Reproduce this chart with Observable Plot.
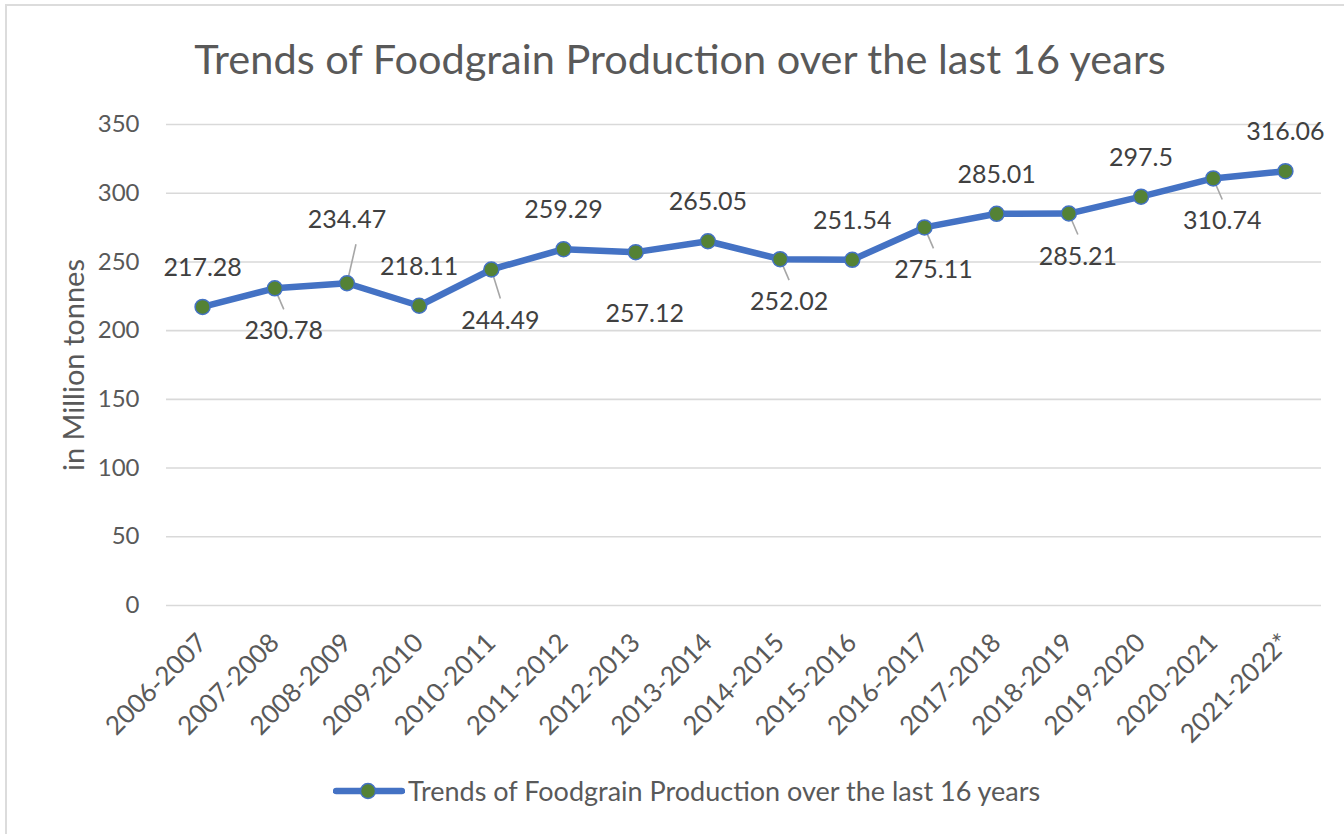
<!DOCTYPE html>
<html>
<head>
<meta charset="utf-8">
<script src="https://cdn.jsdelivr.net/npm/d3@7"></script>
<script src="https://cdn.jsdelivr.net/npm/@observablehq/plot@0.6"></script>
<style>
  html, body { margin: 0; padding: 0; background: #fff; }
  body { width: 1344px; height: 834px; position: relative; overflow: hidden; font-family: Lato, "Open Sans", sans-serif; color: #595959; }
  #frame { position: absolute; left: 5px; top: 4px; width: 1400px; height: 900px; border-left: 2px solid #dcdcdc; border-top: 2px solid #dcdcdc; }
  #title { position: absolute; left: 0; width: 1360px; top: 33px; text-align: center; font-size: 41.5px; line-height: 50px; white-space: nowrap; }
  #ylabel { position: absolute; left: 72px; top: 365px; transform: translate(-50%, -50%) rotate(-90deg); font-size: 29px; white-space: nowrap; }
  #chart { position: absolute; left: 0; top: 100px; }
  #legend { position: absolute; left: 333px; top: 774px; display: flex; align-items: center; font-size: 27px; white-space: nowrap; }
  #legend svg { margin-right: 3px; }
</style>
</head>
<body>
<div id="frame"></div>
<div id="title">Trends of Foodgrain Production over the last 16 years</div>
<div id="ylabel">in Million tonnes</div>
<div id="chart"></div>
<div id="legend"></div>
<script>
// ---- data ----
const years = ["2006-2007","2007-2008","2008-2009","2009-2010","2010-2011","2011-2012","2012-2013","2013-2014","2014-2015","2015-2016","2016-2017","2017-2018","2018-2019","2019-2020","2020-2021","2021-2022*"];
const production = [217.28,230.78,234.47,218.11,244.49,259.29,257.12,265.05,252.02,251.54,275.11,285.01,285.21,297.5,310.74,316.06];
const labelSide = ["above","below","above","above","below","above","below","above","below","above","below","above","below","above","below","above"];
const hasLeader = [false,true,true,false,true,false,false,false,true,false,true,false,true,false,true,false];
const yTicks = [0,50,100,150,200,250,300,350];
const seriesName = "Trends of Foodgrain Production over the last 16 years";

const rows = years.map((y, i) => ({i, year: y, value: production[i], side: labelSide[i], leader: hasLeader[i]}));

// ---- layout ----
const W = 1344, H = 645, mL = 166, mR = 23, mT = 24, mB = 140;
const pxX = (W - mL - mR) / years.length;   // px per category
const pxY = (H - mT - mB) / 350;            // px per unit

// extra nudges (px) for labels that were dragged further from their points
const extraNudge = {2: -24, 4: 8, 6: 19};
const labelDy = d => (d.side === "above" ? -39 : 43) + (extraNudge[d.i] || 0);

const blue = "#4472C4", green = "#548235", grid = "#d9d9d9", leaderC = "#a6a6a6";

const leaders = rows.filter(d => d.leader).map(d => {
  const dy = labelDy(d);
  const reach = d.side === "below" ? dy - 22 : dy + 24;
  return {x1: d.i, y1: d.value, x2: d.i + 9 / pxX, y2: d.value - reach / pxY};
});

const chart = Plot.plot({
  width: W, height: H,
  marginLeft: mL, marginRight: mR, marginTop: mT, marginBottom: mB,
  style: {fontFamily: "Lato, 'Open Sans', sans-serif", fontSize: "24px", color: "#595959", background: "transparent", overflow: "visible"},
  x: {domain: [-0.5, years.length - 0.5], ticks: d3.range(years.length), tickFormat: i => years[i], tickRotate: -45, tickSize: 0, tickPadding: 33, label: null},
  y: {domain: [0, 350], ticks: yTicks, tickSize: 0, tickPadding: 27, label: null},
  marks: [
    Plot.ruleY(yTicks, {stroke: grid, strokeWidth: 1.6}),
    Plot.link(leaders, {x1: "x1", y1: "y1", x2: "x2", y2: "y2", stroke: leaderC, strokeWidth: 1.6}),
    Plot.line(rows, {x: "i", y: "value", stroke: blue, strokeWidth: 6.5, strokeLinejoin: "round", strokeLinecap: "round"}),
    Plot.dot(rows, {x: "i", y: "value", r: 7.5, fill: green, stroke: blue, strokeWidth: 1.5}),
    ...rows.map(d => Plot.text([d], {x: "i", y: "value", text: r => String(r.value), dy: labelDy(d), dx: d.side === "below" ? 9 : 0, fill: "#404040", fontSize: 25}))
  ]
});
chart.querySelectorAll('g[aria-label="x-axis tick label"] text, g[aria-label="x-axis"] text').forEach(t => t.style.fontSize = "26px");
document.getElementById("chart").appendChild(chart);

// legend
const lg = d3.select("#legend");
const sw = lg.append("svg").attr("width", 72).attr("height", 20);
sw.append("line").attr("x1", 3).attr("x2", 69).attr("y1", 10).attr("y2", 10).attr("stroke", blue).attr("stroke-width", 6.5).attr("stroke-linecap", "round");
sw.append("circle").attr("cx", 35).attr("cy", 10).attr("r", 7.5).attr("fill", green).attr("stroke", blue).attr("stroke-width", 1.5);
lg.append("span").text(seriesName);
</script>
</body>
</html>
